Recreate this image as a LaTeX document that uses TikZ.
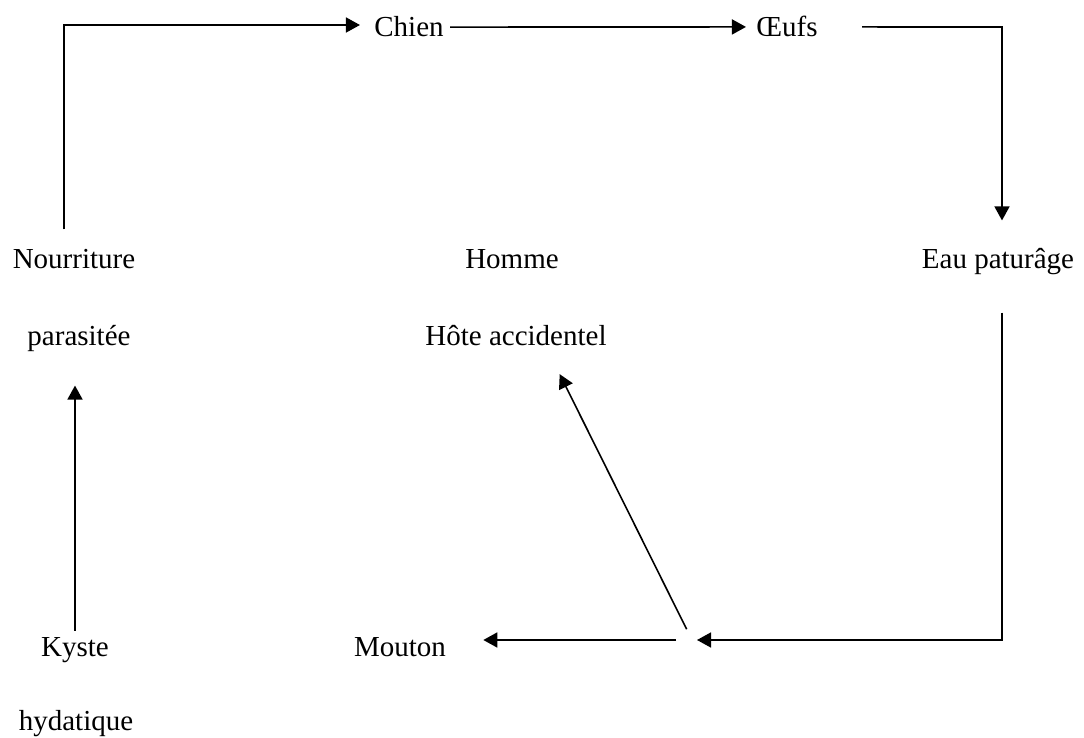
\documentclass[tikz,border=0pt]{standalone}
\usepackage{fontspec}
\setmainfont{Liberation Serif}
\usetikzlibrary{arrows.meta,calc}
\tikzset{
  term/.style={font=\fontsize{14.5}{17}\selectfont,inner sep=3pt,anchor=base},
  flow/.style={-{Triangle[length=7pt,width=7.5pt]},line width=0.8pt}
}

\begin{document}
\begin{tikzpicture}[x=0.5pt,y=-0.5pt]
  \useasboundingbox (0,0) rectangle (1084,738);
  % cycle du parasite
  \node[term] (chien) at (409,37) {Chien};
  \node[term] (oeufs) at (787,37) {Œufs};
  \node[term] (nour) at (74,269) {Nourriture};
  \node[term] (paras) at (79,346) {parasitée};
  \node[term] (homme) at (512,269) {Homme};
  \node[term] (hote) at (516,346) {Hôte accidentel};
  \node[term] (eau) at (998,269) {Eau paturâge};
  \node[term] (kyste) at (75,656) {Kyste};
  \node[term] (hyda) at (76,730) {hydatique};
  \node[term] (mouton) at (400,656) {Mouton};
  \coordinate (tl) at (64,25);
  \coordinate (tr) at (1002,27);
  \coordinate (br) at (1002,640);
  \coordinate (hub) at (692,640);
  \draw[flow, shorten <=7pt, shorten >=4pt] (tl |- nour.north) -- (tl) -- (tl -| chien.west);
  \draw[flow, shorten >=2pt] (chien.east) -- (oeufs.west);
  \draw[flow, shorten <=19pt, shorten >=11pt] (oeufs.east) -- (tr) -- (tr |- eau.north);
  \draw[flow, shorten <=15.5pt, shorten >=2.5pt] (tr |- eau.south) -- (br) -- (hub);
  \draw[flow, shorten <=8pt, shorten >=15.5pt] (hub) -- (hub -| mouton.east);
  \draw[flow, shorten <=6pt, shorten >=12pt] (hub) -- ([xshift=16.5pt]hote.south);
  \draw[flow, shorten >=13.5pt] (kyste.north) -- (kyste.north |- paras.south);
\end{tikzpicture}
\end{document}
